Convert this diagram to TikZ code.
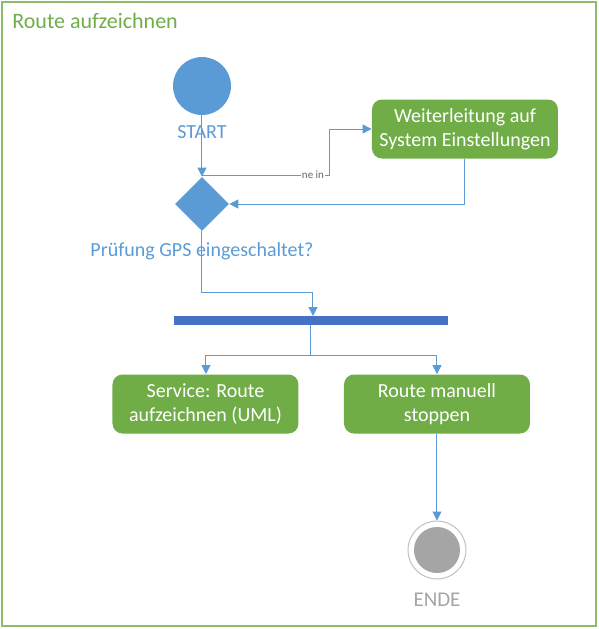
\documentclass[tikz,border=0pt]{standalone}
\usepackage{fontspec}
\setmainfont{Carlito}
\usetikzlibrary{arrows.meta,shapes.geometric}
\definecolor{uiblue}{HTML}{5B9BD5}
\definecolor{uigreen}{HTML}{70AD47}
\definecolor{framegreen}{HTML}{8DBB6A}
\definecolor{barblue}{HTML}{4472C4}
\definecolor{uigray}{HTML}{A5A5A5}
\tikzset{
  conn/.style={draw=uiblue, line width=0.5pt, -{Triangle[length=4.5pt,width=4.5pt]}},
  plain/.style={draw=uiblue, line width=0.5pt},
  actbox/.style={draw=none, fill=uigreen, rounded corners=5pt, text=white, align=center, font=\fontsize{10}{12}\selectfont, minimum width=93pt, minimum height=29.5pt, inner sep=0pt},
  lbl/.style={text=uiblue, font=\fontsize{10}{12}\selectfont, inner sep=0pt},
}
\begin{document}
\begin{tikzpicture}[x=0.5pt,y=-0.5pt]
\useasboundingbox (0,0) rectangle (599,629);
\draw[framegreen, line width=1pt] (1.5,1.5) rectangle (596,626);
\node[anchor=west, text=uigreen, font=\fontsize{11}{13}\selectfont, inner sep=0pt] (title) at (12,21) {Route aufzeichnen};

\node[circle, fill=uiblue, minimum size=29pt, inner sep=0pt] (start) at (202,86) {};
\node[lbl] (startl) at (202,132) {START};

\node[diamond, fill=uiblue, minimum width=27pt, minimum height=27pt, inner sep=0pt] (dec) at (202,204) {};
\node[lbl] (decl) at (202,251) {Prüfung GPS eingeschaltet?};

\node[actbox, minimum width=93pt] (weiter) at (465,129) {Weiterleitung auf\\System Einstellungen};

\node[fill=barblue, minimum width=137pt, minimum height=4.5pt, inner sep=0pt] (bar) at (311,320.5) {};

\node[actbox] (service) at (205.5,404) {Service: Route\\aufzeichnen (UML)};
\node[actbox] (stop) at (437,404) {Route manuell\\stoppen};

\node[circle, draw=uigray!70, line width=0.5pt, fill=white, minimum size=29pt, inner sep=0pt] (endo) at (437,550) {};
\node[circle, fill=uigray, minimum size=23pt, inner sep=0pt] (endi) at (437,550) {};
\node[text=uigray, font=\fontsize{10.5}{12}\selectfont, inner sep=0pt] (endl) at (437,600) {ENDE};

\coordinate (split) at (202,175);
\coordinate (barin) at (313,316);
\coordinate (barout) at (311,325);
\coordinate (fork) at (311,355);
\coordinate (svcin) at (206,374);
\draw[conn] (start.south) -- (dec.north);
\draw[conn] (split) -- (330,175) -- (330,129) -- (weiter.west);
\node[fill=white, text=gray!80!black, font=\fontsize{5.5}{6}\selectfont, inner sep=0.5pt] (nein) at (313,175) {ne in};
\draw[conn] (weiter.south) |- (dec.east);
\draw[conn] (dec.south) -- (202,292) -| (barin);
\draw[plain] (barout) -- (fork);
\draw[conn] (fork) -| (svcin);
\draw[conn] (fork) -| (stop.north);
\draw[conn] (stop.south) -- (endo.north);
\end{tikzpicture}
\end{document}
